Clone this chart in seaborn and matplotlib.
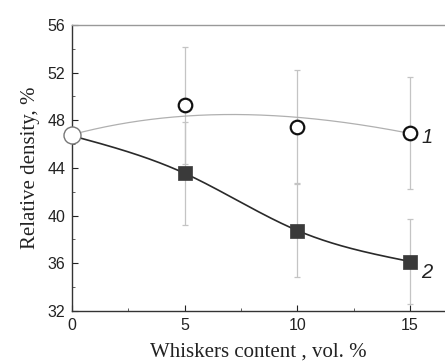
import matplotlib
matplotlib.use("Agg")
import matplotlib.pyplot as plt
import seaborn as sns
import numpy as np
import pandas as pd
from matplotlib.ticker import MultipleLocator

# data
whiskers = [0, 5, 10, 15]
density_1 = [46.8, 49.25, 47.45, 46.95]
err_1 = [0.0, 4.9, 4.75, 4.7]
density_2 = [46.8, 43.55, 38.75, 36.15]
err_2 = [0.0, 4.3, 3.9, 3.6]

# fitted curve reference points
curve1_x = [0, 5, 10, 15]
curve1_y = [46.8, 48.35, 48.25, 46.9]
curve2_x = [0, 5, 10, 15]
curve2_y = [46.7, 43.55, 38.75, 36.15]

x_ticks = [0, 5, 10, 15]
y_ticks = [32, 36, 40, 44, 48, 52, 56]


def natural_spline(xk, yk, xs):
    xk = np.asarray(xk, float)
    yk = np.asarray(yk, float)
    n = len(xk)
    h = np.diff(xk)
    A = np.zeros((n, n))
    b = np.zeros(n)
    A[0, 0] = A[-1, -1] = 1.0
    for i in range(1, n - 1):
        A[i, i - 1] = h[i - 1]
        A[i, i] = 2 * (h[i - 1] + h[i])
        A[i, i + 1] = h[i]
        b[i] = 6 * ((yk[i + 1] - yk[i]) / h[i] - (yk[i] - yk[i - 1]) / h[i - 1])
    M = np.linalg.solve(A, b)
    idx = np.clip(np.searchsorted(xk, xs) - 1, 0, n - 2)
    x0, x1 = xk[idx], xk[idx + 1]
    hh = x1 - x0
    t0, t1 = x1 - xs, xs - x0
    return (M[idx] * t0 ** 3 / (6 * hh) + M[idx + 1] * t1 ** 3 / (6 * hh)
            + (yk[idx] / hh - M[idx] * hh / 6) * t0
            + (yk[idx + 1] / hh - M[idx + 1] * hh / 6) * t1)


sns.set_theme(style="white")
plt.rcParams['font.family'] = ['Liberation Sans', 'DejaVu Sans']

fig = plt.figure(figsize=(4.45, 3.62), dpi=100)
ax = fig.add_axes([0.162, 0.141, 0.838, 0.790])

xs = np.linspace(0, 15, 300)
c1 = np.polyval(np.polyfit(curve1_x, curve1_y, 3), xs)
c2 = natural_spline(curve2_x, curve2_y, xs)
sns.lineplot(x=xs, y=c1, ax=ax, color="#b0b0b0", linewidth=0.9, zorder=2)
sns.lineplot(x=xs, y=c2, ax=ax, color="#2a2a2a", linewidth=1.2, zorder=2)

ax.errorbar(whiskers[1:], density_1[1:], yerr=err_1[1:], fmt="none",
            ecolor="#c4c4c4", elinewidth=0.9, capsize=2.5, capthick=0.9, zorder=1)
ax.errorbar(whiskers[1:], density_2[1:], yerr=err_2[1:], fmt="none",
            ecolor="#c4c4c4", elinewidth=0.9, capsize=2.5, capthick=0.9, zorder=1)

df2 = pd.DataFrame({"x": whiskers[1:], "y": density_2[1:]})
sns.scatterplot(data=df2, x="x", y="y", ax=ax, marker="s", s=110,
                color="#3a3a3a", edgecolor="#3a3a3a", linewidth=0.5, zorder=4)
df1 = pd.DataFrame({"x": whiskers, "y": density_1})
sns.scatterplot(data=df1, x="x", y="y", ax=ax, marker="o", s=95,
                facecolor="white", edgecolor="#111111", linewidth=1.6, zorder=5)
# first point edge lighter
ax.scatter([whiskers[0]], [density_1[0]], s=150, facecolor="white",
           edgecolor="#777777", linewidth=1.0, zorder=6, clip_on=False)

ax.set_xlim(0, 16.55)
ax.set_ylim(32, 56)
ax.set_xticks(x_ticks)
ax.set_yticks(y_ticks)
ax.xaxis.set_minor_locator(MultipleLocator(2.5))
ax.yaxis.set_minor_locator(MultipleLocator(2))
ax.tick_params(axis="both", which="major", direction="in", length=4, width=0.8,
               labelsize=11.5, colors="#222222", pad=5, bottom=True, left=True)
ax.tick_params(axis="both", which="minor", direction="in", length=2.5, width=0.6,
               bottom=True, left=True, colors="#444444")
for lab in ax.get_xticklabels() + ax.get_yticklabels():
    lab.set_color("#222222")

for s in ["left", "bottom"]:
    ax.spines[s].set_color("#333333")
    ax.spines[s].set_linewidth(1.0)
ax.spines["top"].set_color("#999999")
ax.spines["top"].set_linewidth(1.0)
ax.spines["right"].set_visible(False)

serif = ['Liberation Serif', 'DejaVu Serif']
ax.set_xlabel("Whiskers content , vol. %", family=serif, fontsize=15, color="#222222", labelpad=7)
ax.set_ylabel("Relative density, %", family=serif, fontsize=15, color="#222222", labelpad=5)

ax.text(15.5, density_1[3] - 0.4, "1", style="italic", fontsize=14.5, color="#222222",
        va="center", ha="left")
ax.text(15.5, density_2[3] - 0.9, "2", style="italic", fontsize=14.5, color="#222222",
        va="center", ha="left")

fig.savefig("out.png", dpi=100)
